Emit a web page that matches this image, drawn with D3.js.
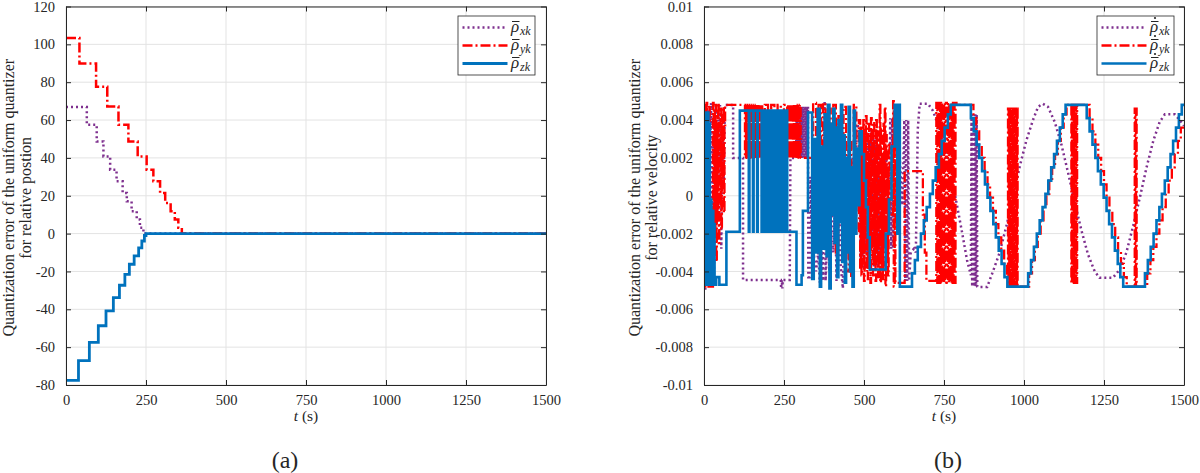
<!DOCTYPE html>
<html>
<head>
<meta charset="utf-8">
<script src="https://cdn.jsdelivr.net/npm/d3@7"></script>
<style>
html, body { margin: 0; padding: 0; background: #fff; }
svg { display: block; }
svg text { font-family: "Times New Roman", Times, "Liberation Serif", "DejaVu Serif", serif; }
.axis text { font-size: 14.5px; fill: #262626; }
.axis path, .axis line { stroke: #262626; }
</style>
</head>
<body>
<svg id="fig" width="1200" height="473"></svg>
<script>
// ---- shared axis values ----
const tTicks = [0, 250, 500, 750, 1000, 1250, 1500]
const posTicks = [-80, -60, -40, -20, 0, 20, 40, 60, 80, 100, 120]
const velTicks = [-10, -8, -6, -4, -2, 0, 2, 4, 6, 8, 10] // x 1e-3
const velTickLabels = ['-0.01', '-0.008', '-0.006', '-0.004', '-0.002', '0', '0.002', '0.004', '0.006', '0.008', '0.01']

// ---- (a) position quantization error, [t (s), value] steps ----
const posX = [[0, 66.9], [65, 57.5], [96, 48.7], [117, 40.8], [138, 33.8], [158, 27.6], [177, 21.5], [190, 17.1],
  [205, 11.8], [221, 7.5], [231, 3.1], [242, 0], [1500, 0]]
const posY = [[0, 103.4], [42, 89.9], [94, 77.6], [129, 67.1], [164, 57.5], [195, 48.7], [224, 40.8], [252, 33.8],
  [273, 27.6], [294, 21.5], [310, 16.2], [327, 11.8], [340, 7.5], [351, 3.1], [362, 0], [1500, 0]]
const posZ = [[0, -77.6], [39, -67.1], [73, -57.5], [101, -48.7], [125, -40.8], [148, -33.8], [167, -27.3], [184, -21.5],
  [198, -16.2], [213, -11.8], [227, -7.5], [237, -3.9], [245, -1.0], [250, 0], [1500, 0]]

// ---- (b) velocity quantization error, [t (s), value x 1e-3] ----
const velX = [[0, -4.9], [4, -4.9], [5, 3.0], [8, 4.8], [10, -2.0], [13, 4.6], [16, -3.8], [19, 2.2], [22, 4.9], [25, -1.0],
  [28, 3.6], [31, -4.2], [34, 2.0], [37, 4.7], [40, -0.5], [43, 4.0], [46, 1.2], [50, 4.8], [54, -2.8], [58, 3.5], [62, 0.6],
  [65, 4.8], [91, 4.8], [91, 2.0], [122, 2.0], [122, -4.45], [240, -4.45], [241, -4.9], [243, -4.45], [245, -4.9], [246, -4.45],
  [268, -4.45], [270, 2.0], [288, 2.0], [289, 4.7], [291, 2.0], [293, 4.7], [295, 2.0], [297, 4.7], [299, 2.0], [301, 4.7],
  [303, 2.0], [305, 4.7], [307, 2.0], [309, 4.7], [311, 2.0], [313, 4.7], [315, 2.0], [317, 4.7], [319, 2.0], [321, 4.7],
  [323, 2.0], [325, 4.7], [326, -4.3], [330, -4.3], [333, 1.0], [337, -2.0], [341, 3.0], [344, -3.2], [350, -4.0], [357, -3.0],
  [362, -4.6], [368, -2.5], [372, -4.5], [377, 5.0], [380, -4.5], [386, -2.0], [392, -4.0], [398, 1.5], [404, -3.0], [410, 0.2],
  [414, -4.5], [420, 2.5], [426, -3.5], [434, -4.9], [440, 1.0], [446, -2.0], [452, 3.0], [458, -3.0], [464, 2.0], [470, -1.0],
  [478, 3.8], [486, 3.5], [489, -3.8], [492, 3.0], [495, -3.5], [498, 2.5], [501, -3.9], [504, 3.5], [507, -3.0], [510, 3.4],
  [513, -3.8], [516, 2.8], [519, -3.6], [522, 3.5], [525, -2.5], [528, 3.2], [531, -3.8], [534, 3.0], [537, -3.4], [540, 3.5],
  [543, -3.8], [546, 2.5], [549, -3.0], [555, 1.0], [562, -2.0], [570, 2.0], [578, -1.5], [582, 4.1], [585, -2.8], [588, 4.1],
  [591, -2.8], [594, 2.0], [600, -1.0], [610, 2.5], [620, -0.5], [626, 4.0], [629, -4.5], [632, 4.0], [635, -4.5], [638, 4.0],
  [641, -4.5], [646, -3.0], [656, -2.8], [662, -3.0], [668, 3.5], [674, 4.86], [700, 4.86], [715, 4.5], [735, 3.6], [760, 2.0],
  [785, 0.0], [805, -1.8], [822, -3.4], [834, -4.2], [836, 4.3], [838, -4.8], [840, 4.3], [842, -4.8], [844, 4.3], [846, -4.8],
  [848, 4.3], [850, -4.8], [852, 4.3], [854, -4.8], [856, -4.82], [885, -4.82], [903, -4.0], [924, -3.0], [945, -1.6],
  [966, -0.1], [986, 1.5], [1007, 2.9], [1028, 4.0], [1044, 4.7], [1059, 4.86], [1075, 4.7], [1096, 3.9], [1117, 2.7],
  [1138, 1.2], [1158, -0.3], [1179, -1.8], [1200, -3.1], [1221, -4.0], [1236, -4.33], [1278, -4.33], [1299, -3.9],
  [1320, -3.0], [1341, -1.6], [1362, -0.1], [1383, 1.5], [1404, 2.9], [1424, 3.9], [1440, 4.3], [1471, 4.3], [1487, 4.0],
  [1500, 3.7]]

const velY = [[0, 4.8], [2, -4.8], [4, 4.6], [6, -3.0], [8, 4.9], [10, -4.6], [12, 3.5], [14, -4.8], [16, 4.8], [18, -4.0],
  [22, -4.8], [28, 4.9], [30, -3.2], [32, 4.5], [34, -2.0], [36, 4.8], [38, -3.5], [40, 3.8], [42, -1.0], [44, 4.9], [46, -2.5],
  [48, 3.2], [50, -0.5], [52, 4.6], [54, -1.8], [56, 4.2], [58, 0.8], [60, 4.7], [62, -0.9], [64, 3.6], [66, 4.8], [128, 2.0],
  [131, 4.8], [134, 2.0], [137, 4.8], [140, 2.0], [143, 4.8], [146, 2.0], [149, 4.8], [152, 2.0], [155, 4.8], [158, 2.0],
  [161, 4.8], [164, 2.0], [167, 4.8], [170, 2.0], [173, 4.8], [176, 2.0], [179, 4.8], [182, 2.0], [190, 4.8], [200, 2.0],
  [210, 4.8], [220, 2.0], [230, 4.8], [240, 2.0], [250, 4.8], [260, 2.0], [263, 4.8], [266, 2.0], [269, 4.8], [272, 2.0],
  [275, 4.8], [278, 2.0], [281, 4.8], [284, 2.0], [287, 4.8], [290, 2.0], [293, 4.8], [296, 2.0], [299, 4.8], [302, 2.0],
  [341, 4.9], [350, -1.0], [358, 4.8], [366, 0.5], [372, 4.9], [380, -2.5], [388, 4.6], [396, 1.0], [404, 4.8], [412, -3.0],
  [420, 4.2], [428, -1.0], [436, 4.7], [444, -4.0], [452, 3.0], [460, -4.4], [468, 4.8], [476, -2.0], [484, 4.0],
  [488, -3.8], [490, 3.6], [492, -4.2], [494, 2.8], [496, -3.0], [498, 4.0], [500, -4.5], [502, 3.2], [504, -2.2], [506, 4.2],
  [508, -4.0], [510, 1.8], [512, -4.4], [514, 3.8], [516, -3.4], [518, 2.4], [520, -4.6], [522, 4.1], [524, -2.8], [526, 3.0],
  [528, -4.2], [530, 3.9], [532, -3.6], [534, 2.2], [536, -4.5], [538, 4.0], [540, -3.0], [542, 3.4], [544, -4.3], [546, 2.6],
  [549, 4.8], [551, -4.6], [553, 3.6], [555, -3.9], [557, 2.0], [559, -4.4], [561, 3.8], [563, -2.6], [565, 4.7], [567, -4.8],
  [569, 3.2], [571, -3.5], [573, 1.5], [575, -4.2], [577, 2.8], [580, -1.0], [591, 5.0], [593, -4.8], [596, 4.8], [598, -4.6],
  [627, 1.3], [684, -1.0], [690, -3.0], [695, -4.5], [726, 4.9], [729, -4.6], [732, 4.9], [735, -4.6], [738, 4.9], [741, -4.6],
  [744, 4.9], [747, -4.6], [750, 4.9], [753, -4.6], [756, 4.9], [759, -4.6], [762, 4.9], [765, -4.6], [768, 4.9], [771, -4.6],
  [774, 4.9], [777, -4.6], [780, 4.9], [783, -4.6], [786, 4.9], [789, 4.8], [842, 4.1], [851, 3.4], [860, 2.7], [868, 2.0],
  [877, 1.3], [886, 0.6], [894, -0.1], [903, -0.8], [912, -1.5], [920, -2.2], [929, -2.9], [938, -3.6], [947, -4.3],
  [950, 4.6], [952, -4.8], [954, 4.6], [956, -4.8], [958, 4.6], [960, -4.8], [962, 4.6], [964, -4.8], [966, 4.6], [968, -4.8],
  [970, 4.6], [972, -4.8], [974, 4.6], [976, -4.8], [978, 4.6], [980, -4.8], [1016, -4.1], [1025, -3.4], [1034, -2.7],
  [1043, -2.0], [1052, -1.3], [1061, -0.6], [1070, 0.1], [1079, 0.8], [1088, 1.5], [1097, 2.2], [1106, 2.9], [1115, 3.6],
  [1124, 4.3], [1133, 4.8], [1148, -4.6], [1150, 4.8], [1152, -4.6], [1154, 4.8], [1156, -4.6], [1158, 4.8], [1160, -4.6],
  [1162, 4.8], [1164, -4.6], [1166, 4.8], [1205, 4.1], [1214, 3.4], [1223, 2.7], [1232, 2.0], [1241, 1.3], [1250, 0.6],
  [1258, -0.1], [1267, -0.8], [1276, -1.5], [1285, -2.2], [1294, -2.9], [1303, -3.6], [1312, -4.3], [1321, -4.8],
  [1346, 4.6], [1348, -4.8], [1350, 4.6], [1352, -4.8], [1385, -4.1], [1395, -3.4], [1404, -2.7], [1414, -2.0],
  [1423, -1.3], [1433, -0.6], [1443, 0.1], [1452, 0.8], [1462, 1.5], [1471, 2.2], [1481, 2.9], [1490, 3.6], [1500, 3.6]]

const velZ = [[0, 4.4], [2, -4.7], [4, 4.4], [6, -4.7], [8, 4.2], [10, -4.7], [12, 4.4], [14, -4.5], [16, 3.8], [18, -4.7],
  [20, -0.2], [23, -4.7], [26, -0.8], [29, -4.5], [31, -1.5], [33, -4.7], [38, -4.3], [48, -4.7], [70, -1.9], [112, 4.5],
  [140, -1.9], [142, 4.5], [153, -1.9], [155, 4.5], [166, -1.9], [168, 4.5], [180, -1.9], [182, 4.5],
  [185, -1.9], [188, 4.5], [191, -1.9], [194, 4.5], [197, -1.9], [200, 4.5], [203, -1.9], [206, 4.5], [209, -1.9], [212, 4.5],
  [215, -1.9], [218, 4.5], [224, -1.9], [227, 4.5], [230, -1.9], [233, 4.5], [236, -1.9], [239, 4.5], [242, -1.9], [245, 4.5],
  [248, -1.9], [251, 4.5], [254, -1.9], [257, 4.5], [260, -1.9], [289, -4.7], [305, -4.2], [309, -0.8], [325, 4.4],
  [338, -4.4], [343, 3.0], [350, -3.0], [355, 4.6], [362, -4.8], [366, 2.6], [372, -2.8], [377, 4.3], [383, -3.2], [387, 4.8],
  [392, -4.9], [396, 3.8], [400, -1.0], [404, 4.6], [408, -2.5], [412, 3.6], [416, -4.3], [420, 4.0], [424, -1.4], [428, 4.8],
  [432, -3.5], [436, 3.2], [440, -4.6], [444, 2.0], [448, -3.0], [452, 4.7], [456, -4.0], [460, 1.5], [464, -4.8], [468, 4.5],
  [472, -2.0], [476, 2.5], [480, -0.5], [486, 3.4], [493, 2.2], [500, 0.8], [506, -0.6], [512, -2.2], [518, -3.9],
  [568, -2.0], [578, -0.2], [586, 2.6], [596, 4.8], [604, -2.0], [606, 4.8], [612, -4.8],
  [650, -4.1], [659, -3.4], [668, -2.7], [678, -2.0], [687, -1.3], [696, -0.6], [706, 0.1], [715, 0.8], [724, 1.5],
  [734, 2.2], [743, 2.9], [752, 3.6], [762, 4.3], [771, 4.8],
  [834, 4.1], [843, 3.4], [852, 2.7], [860, 2.0], [869, 1.3], [878, 0.6], [886, -0.1], [895, -0.8], [904, -1.5],
  [912, -2.2], [921, -2.9], [930, -3.6], [939, -4.3], [948, -4.8],
  [1013, -4.1], [1022, -3.4], [1031, -2.7], [1040, -2.0], [1049, -1.3], [1058, -0.6], [1067, 0.1], [1076, 0.8],
  [1085, 1.5], [1094, 2.2], [1103, 2.9], [1112, 3.6], [1121, 4.3], [1130, 4.8],
  [1196, 4.1], [1205, 3.4], [1214, 2.7], [1223, 2.0], [1231, 1.3], [1240, 0.6], [1249, -0.1], [1258, -0.8], [1266, -1.5],
  [1275, -2.2], [1284, -2.9], [1293, -3.6], [1301, -4.3], [1310, -4.8],
  [1378, -4.1], [1387, -3.4], [1396, -2.7], [1405, -2.0], [1414, -1.3], [1423, -0.6], [1431, 0.1], [1440, 0.8],
  [1449, 1.5], [1458, 2.2], [1466, 2.9], [1475, 3.6], [1484, 4.3], [1493, 4.8], [1500, 4.8]]

const INK = '#262626'
const PURPLE = '#7E2F8E'
const RED = '#FF0000'
const BLUE = '#0072BD'

const svg = d3.select('#fig')

function rhoLabel(g, x, y, sub, dotted) {
  g.append('text').attr('x', x).attr('y', y)
    .attr('font-style', 'italic').attr('font-size', 17).attr('fill', INK)
    .text('ρ')
  g.append('line').attr('x1', x + 1).attr('x2', x + 8.5).attr('y1', y - 10.5).attr('y2', y - 10.5)
    .attr('stroke', INK).attr('stroke-width', 1)
  if (dotted) g.append('circle').attr('cx', x + 5).attr('cy', y - 14).attr('r', 1.1).attr('fill', INK)
  g.append('text').attr('x', x + 9).attr('y', y + 3)
    .attr('font-style', 'italic').attr('font-size', 12).attr('fill', INK)
    .text(sub)
}

function panel(cfg) {
  const { x0, x1, y0, y1 } = cfg
  const x = d3.scaleLinear().domain([0, 1500]).range([x0, x1])
  const y = d3.scaleLinear().domain(cfg.yDomain).range([y1, y0])
  const g = svg.append('g')

  // grid
  g.append('g').selectAll('line').data(tTicks).join('line')
    .attr('x1', d => x(d)).attr('x2', d => x(d)).attr('y1', y0).attr('y2', y1)
    .attr('stroke', '#e3e3e3').attr('stroke-width', 1)
  g.append('g').selectAll('line').data(cfg.yTicks).join('line')
    .attr('x1', x0).attr('x2', x1).attr('y1', d => y(d)).attr('y2', d => y(d))
    .attr('stroke', '#e3e3e3').attr('stroke-width', 1)

  // series
  const clipId = 'clip' + cfg.id
  svg.append('clipPath').attr('id', clipId).append('rect')
    .attr('x', x0).attr('y', y0 - 2).attr('width', x1 - x0).attr('height', y1 - y0 + 4)
  const plot = g.append('g').attr('clip-path', `url(#${clipId})`)
  for (const s of cfg.series) {
    const line = d3.line().x(d => x(d[0])).y(d => y(d[1])).curve(s.curve)
    plot.append('path').datum(s.data)
      .attr('d', line)
      .attr('fill', 'none')
      .attr('stroke', s.color)
      .attr('stroke-width', s.width)
      .attr('stroke-dasharray', s.dash)
      .attr('stroke-linejoin', 'miter')
  }

  // axes (box with inward ticks)
  g.append('g').attr('class', 'axis').attr('transform', `translate(0,${y1})`)
    .call(d3.axisBottom(x).tickValues(tTicks).tickSize(-5).tickSizeOuter(0).tickPadding(10).tickFormat(d => String(d)))
  g.append('g').attr('class', 'axis').attr('transform', `translate(0,${y0})`)
    .call(d3.axisTop(x).tickValues(tTicks).tickSize(-5).tickSizeOuter(0).tickFormat(''))
  g.append('g').attr('class', 'axis').attr('transform', `translate(${x0},0)`)
    .call(d3.axisLeft(y).tickValues(cfg.yTicks).tickSize(-5).tickSizeOuter(0).tickPadding(11).tickFormat(cfg.yFormat))
  g.append('g').attr('class', 'axis').attr('transform', `translate(${x1},0)`)
    .call(d3.axisRight(y).tickValues(cfg.yTicks).tickSize(-5).tickSizeOuter(0).tickFormat(''))
  g.selectAll('.axis path').attr('stroke-width', 1)
  g.selectAll('.axis').attr('font-family', null).attr('font-size', null)

  // axis titles
  const cy = (y0 + y1) / 2 + 2
  g.append('text').attr('transform', `translate(${cfg.ylabX},${cy}) rotate(-90)`)
    .attr('text-anchor', 'middle').attr('font-size', 16).attr('fill', INK)
    .text('Quantization error of the uniform quantizer')
  g.append('text').attr('transform', `translate(${cfg.ylabX + 17},${cy}) rotate(-90)`)
    .attr('text-anchor', 'middle').attr('font-size', 16).attr('fill', INK)
    .text(cfg.ylab2)
  const xl = g.append('text').attr('x', (x0 + x1) / 2).attr('y', 421)
    .attr('text-anchor', 'middle').attr('font-size', 15.5).attr('fill', INK)
  xl.append('tspan').attr('font-style', 'italic').text('t')
  xl.append('tspan').text(' (s)')
  g.append('text').attr('x', cfg.tagX).attr('y', 468)
    .attr('text-anchor', 'middle').attr('font-size', 24).attr('fill', INK)
    .text(cfg.tag)

  // legend
  const L = cfg.legend
  const lg = g.append('g')
  lg.append('rect').attr('x', L.x).attr('y', 16).attr('width', 77).attr('height', 59)
    .attr('fill', '#fff').attr('stroke', INK).attr('stroke-width', 0.8)
  cfg.series.forEach((s, i) => {
    const ry = 27.5 + i * 18
    lg.append('line').attr('x1', L.x + 4.5).attr('x2', L.x + 49.5).attr('y1', ry).attr('y2', ry)
      .attr('stroke', s.color).attr('stroke-width', s.width).attr('stroke-dasharray', s.dash)
    rhoLabel(lg, L.x + 53, ry + 4.5, s.sub, cfg.dotted)
  })
}

panel({
  id: 'a', x0: 66, x1: 546, y0: 6.5, y1: 385,
  yDomain: [-80, 120], yTicks: posTicks, yFormat: d => String(d),
  ylabX: 13.5, ylab2: 'for relative postion', tag: '(a)', tagX: 285,
  legend: { x: 458 }, dotted: false,
  series: [
    { data: posX, color: PURPLE, width: 2.5, dash: '2,3', curve: d3.curveStepAfter, sub: 'xk' },
    { data: posY, color: RED, width: 2.5, dash: '10,3,2,3', curve: d3.curveStepAfter, sub: 'yk' },
    { data: posZ, color: BLUE, width: 2.8, dash: null, curve: d3.curveStepAfter, sub: 'zk' }
  ]
})

panel({
  id: 'b', x0: 704, x1: 1184, y0: 6.5, y1: 385,
  yDomain: [-10, 10], yTicks: velTicks, yFormat: (d, i) => velTickLabels[i],
  ylabX: 640, ylab2: 'for relative velocity', tag: '(b)', tagX: 948,
  legend: { x: 1097 }, dotted: true,
  series: [
    { data: velX, color: PURPLE, width: 2.5, dash: '2,3', curve: d3.curveLinear, sub: 'xk' },
    { data: velY, color: RED, width: 2.3, dash: '10,3,2,3', curve: d3.curveStepAfter, sub: 'yk' },
    { data: velZ, color: BLUE, width: 2.6, dash: null, curve: d3.curveStepAfter, sub: 'zk' }
  ]
})
</script>
</body>
</html>
